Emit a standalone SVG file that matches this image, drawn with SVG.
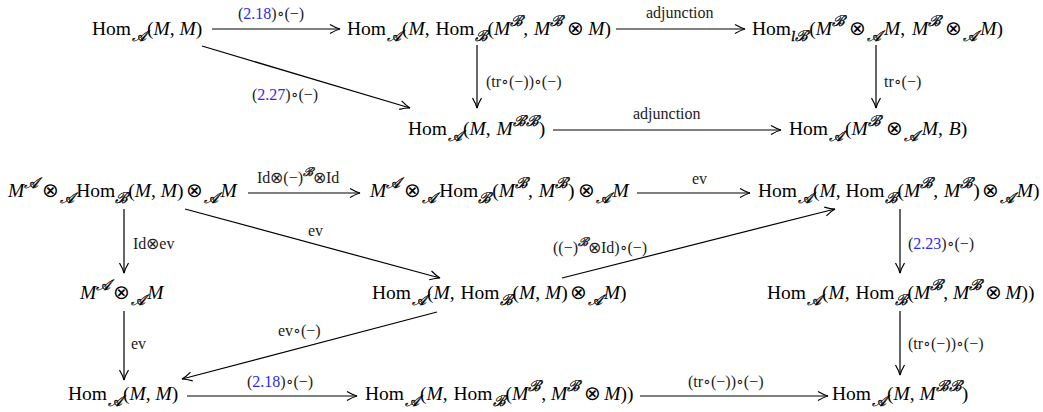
<svg xmlns="http://www.w3.org/2000/svg" width="1043" height="412" viewBox="0 0 1043 412">
<defs>
<style>
text{font-family:"Liberation Serif","DejaVu Serif",serif;fill:#000}
.n{font-size:19.5px}
.l{font-size:16px;fill:#222}
.l .s{font-size:12px}
.i{font-style:italic}
.s{font-size:15px;font-style:italic;stroke:#000;stroke-width:0.35}
.b{fill:#2a2af0}
.o{font-family:"DejaVu Sans",sans-serif;font-weight:200}
.c line{stroke:#000;stroke-width:1.2;marker-end:url(#ah)}
</style>
<marker id="ah" markerWidth="14" markerHeight="14" viewBox="-12 -7 14 14" refX="0" refY="0" orient="auto" markerUnits="userSpaceOnUse"><path d="M-10,-4.5 Q-4,-1 0,0 Q-4,1 -10,4.5" fill="none" stroke="#000" stroke-width="1.2"/></marker>
</defs>
<rect width="1043" height="412" fill="#fff"/>
<g id="connectors" class="c">
<line x1="212" y1="29" x2="340" y2="29"/>
<line x1="616" y1="29" x2="745" y2="29"/>
<line x1="202" y1="46" x2="410" y2="108"/>
<line x1="477" y1="45" x2="477" y2="108"/>
<line x1="876" y1="45" x2="876" y2="108"/>
<line x1="553" y1="130" x2="781" y2="130"/>
<line x1="248" y1="193" x2="360" y2="193"/>
<line x1="637" y1="193" x2="750" y2="193"/>
<line x1="185" y1="209" x2="440" y2="278"/>
<line x1="124" y1="209" x2="124" y2="273"/>
<line x1="562" y1="278" x2="835" y2="209"/>
<line x1="900" y1="209" x2="900" y2="273"/>
<line x1="124" y1="311" x2="124" y2="380"/>
<line x1="437" y1="312" x2="182" y2="379"/>
<line x1="900" y1="311" x2="900" y2="375"/>
<line x1="187" y1="396" x2="357" y2="396"/>
<line x1="640" y1="396" x2="828" y2="396"/>
</g>
<g id="labels">
<text class="l" x="238" y="19">(<tspan class="b">2.18</tspan>)∘(−)</text>
<text class="l" x="646" y="18">adjunction</text>
<text class="l" x="252" y="100">(<tspan class="b">2.27</tspan>)∘(−)</text>
<text class="l" x="486" y="87">(tr∘(−))∘(−)</text>
<text class="l" x="884" y="87">tr∘(−)</text>
<text class="l" x="633" y="119">adjunction</text>
<text class="l" x="257" y="183">Id<tspan class="o">⊗</tspan>(−)<tspan class="s" dy="-7">ℬ</tspan><tspan class="o" dy="7">⊗</tspan>Id</text>
<text class="l" x="692" y="184">ev</text>
<text class="l" x="133" y="249">Id<tspan class="o">⊗</tspan>ev</text>
<text class="l" x="308" y="236">ev</text>
<text class="l" x="553" y="253">((−)<tspan class="s" dy="-7">ℬ</tspan><tspan class="o" dy="7">⊗</tspan>Id)∘(−)</text>
<text class="l" x="908" y="249">(<tspan class="b">2.23</tspan>)∘(−)</text>
<text class="l" x="131" y="349">ev</text>
<text class="l" x="278" y="336">ev∘(−)</text>
<text class="l" x="908" y="349">(tr∘(−))∘(−)</text>
<text class="l" x="247" y="387">(<tspan class="b">2.18</tspan>)∘(−)</text>
<text class="l" x="688" y="387">(tr∘(−))∘(−)</text>
</g>
<g id="n1"><text class="n" x="92" y="35">Hom<tspan class="s" dy="6" dx="1">𝒜</tspan><tspan dy="-6" dx="1">(</tspan><tspan class="i">M</tspan>, <tspan class="i">M</tspan>)</text></g>
<g id="n2"><text class="n" x="347" y="35">Hom<tspan class="s" dy="6" dx="1">𝒜</tspan><tspan dy="-6" dx="1">(</tspan><tspan class="i">M</tspan>, <tspan dx="1">Hom</tspan><tspan class="s" dy="6">ℬ</tspan><tspan dy="-6">(</tspan><tspan class="i">M</tspan><tspan class="s" dy="-9">ℬ</tspan><tspan dy="9">, </tspan><tspan class="i" dx="1">M</tspan><tspan class="s" dy="-9">ℬ</tspan><tspan class="o" dy="9" dx="4">⊗</tspan><tspan class="i" dx="4">M</tspan>)</text></g>
<g id="n3"><text class="n" x="752" y="35">Hom<tspan class="s" dy="6">lℬ</tspan><tspan dy="-6" dx="1">(</tspan><tspan class="i">M</tspan><tspan class="s" dy="-9">ℬ</tspan><tspan class="o" dy="9" dx="4">⊗</tspan><tspan class="s" dy="6" dx="1">𝒜</tspan><tspan class="i" dy="-6" dx="3">M</tspan>, <tspan class="i" dx="2">M</tspan><tspan class="s" dy="-9">ℬ</tspan><tspan class="o" dy="9" dx="4">⊗</tspan><tspan class="s" dy="6" dx="1">𝒜</tspan><tspan class="i" dy="-6" dx="3">M</tspan>)</text></g>
<g id="n4"><text class="n" x="408" y="135">Hom<tspan class="s" dy="6" dx="1">𝒜</tspan><tspan dy="-6" dx="1">(</tspan><tspan class="i">M</tspan>, <tspan class="i" dx="1">M</tspan><tspan class="s" dy="-9">ℬℬ</tspan><tspan dy="9">)</tspan></text></g>
<g id="n5"><text class="n" x="789" y="135">Hom<tspan class="s" dy="6" dx="1">𝒜</tspan><tspan dy="-6" dx="2">(</tspan><tspan class="i">M</tspan><tspan class="s" dy="-9">ℬ</tspan><tspan class="o" dy="9" dx="5">⊗</tspan><tspan class="s" dy="6" dx="1">𝒜</tspan><tspan class="i" dy="-6" dx="4">M</tspan>, <tspan class="i" dx="1">B</tspan>)</text></g>
<g id="n6"><text class="n" x="8" y="197"><tspan class="i">M</tspan><tspan class="s" dy="-9">𝒜</tspan><tspan class="o" dy="9" dx="4">⊗</tspan><tspan class="s" dy="6" dx="1">𝒜</tspan><tspan dy="-6" dx="2">Hom</tspan><tspan class="s" dy="6">ℬ</tspan><tspan dy="-6">(</tspan><tspan class="i">M</tspan>, <tspan class="i">M</tspan>)<tspan class="o" dx="2">⊗</tspan><tspan class="s" dy="6" dx="1">𝒜</tspan><tspan class="i" dy="-6" dx="3">M</tspan></text></g>
<g id="n7"><text class="n" x="370" y="197"><tspan class="i">M</tspan><tspan class="s" dy="-9">𝒜</tspan><tspan class="o" dy="9" dx="4">⊗</tspan><tspan class="s" dy="6" dx="1">𝒜</tspan><tspan dy="-6" dx="3">Hom</tspan><tspan class="s" dy="6">ℬ</tspan><tspan dy="-6" dx="1">(</tspan><tspan class="i">M</tspan><tspan class="s" dy="-9">ℬ</tspan><tspan dy="9">, </tspan><tspan class="i" dx="1">M</tspan><tspan class="s" dy="-9">ℬ</tspan><tspan dy="9">)</tspan><tspan class="o" dx="3">⊗</tspan><tspan class="s" dy="6" dx="1">𝒜</tspan><tspan class="i" dy="-6" dx="3">M</tspan></text></g>
<g id="n8"><text class="n" x="758" y="197">Hom<tspan class="s" dy="6" dx="1">𝒜</tspan><tspan dy="-6" dx="1">(</tspan><tspan class="i">M</tspan>, Hom<tspan class="s" dy="6">ℬ</tspan><tspan dy="-6">(</tspan><tspan class="i">M</tspan><tspan class="s" dy="-9">ℬ</tspan><tspan dy="9">, </tspan><tspan class="i" dx="1">M</tspan><tspan class="s" dy="-9">ℬ</tspan><tspan dy="9">)</tspan><tspan class="o" dx="2">⊗</tspan><tspan class="s" dy="6" dx="1">𝒜</tspan><tspan class="i" dy="-6" dx="3">M</tspan>)</text></g>
<g id="n9"><text class="n" x="372" y="299">Hom<tspan class="s" dy="6" dx="1">𝒜</tspan><tspan dy="-6" dx="1">(</tspan><tspan class="i">M</tspan>, <tspan dx="1">Hom</tspan><tspan class="s" dy="6">ℬ</tspan><tspan dy="-6">(</tspan><tspan class="i">M</tspan>, <tspan class="i">M</tspan>)<tspan class="o" dx="2">⊗</tspan><tspan class="s" dy="6" dx="1">𝒜</tspan><tspan class="i" dy="-6" dx="2">M</tspan>)</text></g>
<g id="n10"><text class="n" x="80" y="299"><tspan class="i">M</tspan><tspan class="s" dy="-9">𝒜</tspan><tspan class="o" dy="9" dx="3">⊗</tspan><tspan class="s" dy="6" dx="1">𝒜</tspan><tspan class="i" dy="-6" dx="2">M</tspan></text></g>
<g id="n11"><text class="n" x="767" y="299">Hom<tspan class="s" dy="6" dx="1">𝒜</tspan><tspan dy="-6" dx="1">(</tspan><tspan class="i">M</tspan>, <tspan dx="1">Hom</tspan><tspan class="s" dy="6">ℬ</tspan><tspan dy="-6">(</tspan><tspan class="i">M</tspan><tspan class="s" dy="-9">ℬ</tspan><tspan dy="9">, </tspan><tspan class="i">M</tspan><tspan class="s" dy="-9">ℬ</tspan><tspan class="o" dy="9" dx="3">⊗</tspan><tspan class="i" dx="3">M</tspan>))</text></g>
<g id="n12"><text class="n" x="68" y="400">Hom<tspan class="s" dy="6" dx="1">𝒜</tspan><tspan dy="-6" dx="1">(</tspan><tspan class="i">M</tspan>, <tspan class="i">M</tspan>)</text></g>
<g id="n13"><text class="n" x="365" y="400">Hom<tspan class="s" dy="6" dx="1">𝒜</tspan><tspan dy="-6" dx="1">(</tspan><tspan class="i">M</tspan>, <tspan dx="1">Hom</tspan><tspan class="s" dy="6">ℬ</tspan><tspan dy="-6">(</tspan><tspan class="i">M</tspan><tspan class="s" dy="-9">ℬ</tspan><tspan dy="9">, </tspan><tspan class="i">M</tspan><tspan class="s" dy="-9">ℬ</tspan><tspan class="o" dy="9" dx="4">⊗</tspan><tspan class="i" dx="3">M</tspan>))</text></g>
<g id="n14"><text class="n" x="832" y="400">Hom<tspan class="s" dy="6" dx="1">𝒜</tspan><tspan dy="-6" dx="1">(</tspan><tspan class="i">M</tspan>, <tspan class="i">M</tspan><tspan class="s" dy="-9">ℬℬ</tspan><tspan dy="9">)</tspan></text></g>
</svg>
